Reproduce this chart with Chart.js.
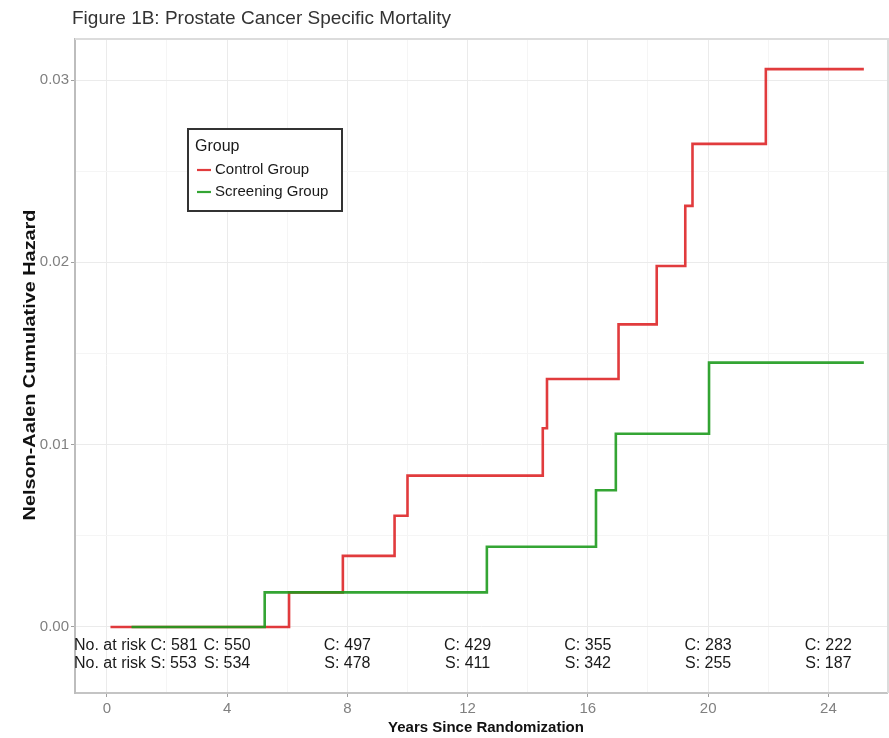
<!DOCTYPE html>
<html>
<head>
<meta charset="utf-8">
<script src="https://cdn.jsdelivr.net/npm/chart.js@4.4.1/dist/chart.umd.min.js"></script>
<style>
  html, body { margin: 0; padding: 0; background: #ffffff; }
  #wrap { width: 889px; height: 738px; }
</style>
</head>
<body>
<div id="wrap"><canvas id="c" width="889" height="738"></canvas></div>
<script>
// ---- Data ----
const controlTimes  = [0.12, 6.06, 7.85, 9.57, 10.0, 14.50, 14.64, 17.02, 18.29, 19.24, 19.48, 21.92, 25.18];
const controlHazard = [0, 0.0019, 0.0039, 0.0061, 0.0083, 0.0109, 0.0136, 0.0166, 0.0198, 0.0231, 0.0265, 0.0306, 0.0306];
const screenTimes   = [0.82, 5.25, 12.64, 16.27, 16.93, 20.03, 25.18];
const screenHazard  = [0, 0.0019, 0.0044, 0.0075, 0.0106, 0.0145, 0.0145];

const xMajorTicks = [0, 4, 8, 12, 16, 20, 24];
const xMinorTicks = [2, 6, 10, 14, 18, 22];
const yMajorTicks = [0, 0.01, 0.02, 0.03];
const yMinorTicks = [0.005, 0.015, 0.025];

const riskTimes    = [0, 4, 8, 12, 16, 20, 24];
const riskControl  = [581, 550, 497, 429, 355, 283, 222];
const riskScreen   = [553, 534, 478, 411, 342, 255, 187];

const titleText  = 'Figure 1B: Prostate Cancer Specific Mortality';
const xTitleText = 'Years Since Randomization';
const yTitleText = 'Nelson-Aalen Cumulative Hazard';
const legendTitle = 'Group';
const groupNames = ['Control Group', 'Screening Group'];

const RED = 'rgba(222,38,40,0.9)';
const GREEN = 'rgba(30,155,30,0.9)';
const FONT = "'Liberation Sans', Arial, Helvetica, sans-serif";

const toPts = (ts, vs) => ts.map((t, i) => ({ x: t, y: vs[i] }));
const isMajor = (list, v) => list.some(m => Math.abs(m - v) < 1e-9);

const decorPlugin = {
  id: 'decor',
  beforeDatasetsDraw(chart) {
    const { ctx, chartArea: a } = chart;
    ctx.save();
    ctx.strokeStyle = '#dcdcdc';
    ctx.lineWidth = 2;
    ctx.beginPath();
    ctx.moveTo(a.left, a.top);
    ctx.lineTo(a.right + 2, a.top);
    ctx.moveTo(a.right + 1, a.top);
    ctx.lineTo(a.right + 1, a.bottom);
    ctx.stroke();
    ctx.restore();
  },
  afterDraw(chart) {
    const { ctx, chartArea: a } = chart;
    const xs = chart.scales.x;
    ctx.save();
    // Title
    ctx.fillStyle = '#333333';
    ctx.font = '19px ' + FONT;
    ctx.textAlign = 'left';
    ctx.textBaseline = 'middle';
    ctx.fillText(titleText, 72, 19);

    // X title
    ctx.fillStyle = '#111111';
    ctx.font = 'bold 15px ' + FONT;
    ctx.textAlign = 'center';
    ctx.fillText(xTitleText, 486, 728);

    // Y title (stretched along its length, as in the reference)
    ctx.save();
    ctx.translate(31, 365);
    ctx.rotate(-Math.PI / 2);
    ctx.scale(1.24, 1);
    ctx.font = 'bold 16px ' + FONT;
    ctx.textAlign = 'center';
    ctx.fillText(yTitleText, 0, 0);
    ctx.restore();

    // Number at risk table
    ctx.fillStyle = '#1a1a1a';
    ctx.font = '16px ' + FONT;
    riskTimes.forEach((t, i) => {
      const cTxt = 'C: ' + riskControl[i];
      const sTxt = 'S: ' + riskScreen[i];
      if (i === 0) {
        ctx.textAlign = 'left';
        ctx.fillText('No. at risk ' + cTxt, a.left - 1, 646);
        ctx.fillText('No. at risk ' + sTxt, a.left - 1, 664);
      } else {
        const px = xs.getPixelForValue(t);
        ctx.textAlign = 'center';
        ctx.fillText(cTxt, px, 646);
        ctx.fillText(sTxt, px, 664);
      }
    });

    // Legend
    const L = 188, T = 129, R = 342, B = 211;
    ctx.fillStyle = '#ffffff';
    ctx.fillRect(L, T, R - L, B - T);
    ctx.strokeStyle = '#333333';
    ctx.lineWidth = 2;
    ctx.strokeRect(L, T, R - L, B - T);
    ctx.fillStyle = '#1a1a1a';
    ctx.textAlign = 'left';
    ctx.font = '16px ' + FONT;
    ctx.fillText(legendTitle, 195, 147);
    ctx.font = '15px ' + FONT;
    const cols = [RED, GREEN];
    const ys = [170, 192];
    groupNames.forEach((name, i) => {
      ctx.strokeStyle = cols[i];
      ctx.lineWidth = 2.2;
      ctx.beginPath();
      ctx.moveTo(197, ys[i]);
      ctx.lineTo(211, ys[i]);
      ctx.stroke();
      ctx.fillStyle = '#1a1a1a';
      ctx.fillText(name, 215, ys[i]);
    });
    ctx.restore();
  }
};

new Chart(document.getElementById('c'), {
  type: 'line',
  data: {
    datasets: [
      {
        label: groupNames[0],
        data: toPts(controlTimes, controlHazard),
        borderColor: RED,
        backgroundColor: RED,
        borderWidth: 2.6,
        stepped: true,
        pointRadius: 0,
        fill: false,
        order: 2
      },
      {
        label: groupNames[1],
        data: toPts(screenTimes, screenHazard),
        borderColor: GREEN,
        backgroundColor: GREEN,
        borderWidth: 2.6,
        stepped: true,
        pointRadius: 0,
        fill: false,
        order: 1
      }
    ]
  },
  options: {
    responsive: false,
    animation: false,
    devicePixelRatio: 1,
    layout: { padding: { left: 0, top: 39, right: 2, bottom: 0 } },
    plugins: {
      legend: { display: false },
      title: { display: false },
      tooltip: { enabled: false }
    },
    scales: {
      x: {
        type: 'linear',
        min: -1.06,
        max: 25.95,
        afterBuildTicks(scale) {
          scale.ticks = [...xMajorTicks, ...xMinorTicks].sort((p, q) => p - q).map(v => ({ value: v }));
        },
        afterFit(scale) { scale.height = 45; },
        ticks: {
          autoSkip: false,
          maxRotation: 0,
          padding: 3,
          color: '#808080',
          font: { family: FONT, size: 15 },
          callback: (v) => isMajor(xMajorTicks, v) ? String(v) : ''
        },
        grid: {
          color: (c) => (c.tick && isMajor(xMajorTicks, c.tick.value)) ? '#ebebeb' : '#f5f5f5',
          lineWidth: 1,
          drawTicks: true,
          tickLength: 4,
          tickColor: (c) => (c.tick && isMajor(xMajorTicks, c.tick.value)) ? '#a0a0a0' : 'rgba(0,0,0,0)'
        },
        border: { display: true, color: '#c4c4c4', width: 2 }
      },
      y: {
        type: 'linear',
        min: -0.00362,
        max: 0.03225,
        afterBuildTicks(scale) {
          scale.ticks = [...yMajorTicks, ...yMinorTicks].sort((p, q) => p - q).map(v => ({ value: v }));
        },
        afterFit(scale) { scale.width = 75; },
        ticks: {
          autoSkip: false,
          padding: 2,
          color: '#808080',
          font: { family: FONT, size: 15 },
          callback: (v) => isMajor(yMajorTicks, v) ? v.toFixed(2) : ''
        },
        grid: {
          color: (c) => (c.tick && isMajor(yMajorTicks, c.tick.value)) ? '#ebebeb' : '#f5f5f5',
          lineWidth: 1,
          drawTicks: true,
          tickLength: 4,
          tickColor: (c) => (c.tick && isMajor(yMajorTicks, c.tick.value)) ? '#a0a0a0' : 'rgba(0,0,0,0)'
        },
        border: { display: true, color: '#bdbdbd', width: 2 }
      }
    }
  },
  plugins: [decorPlugin]
});
</script>
</body>
</html>
